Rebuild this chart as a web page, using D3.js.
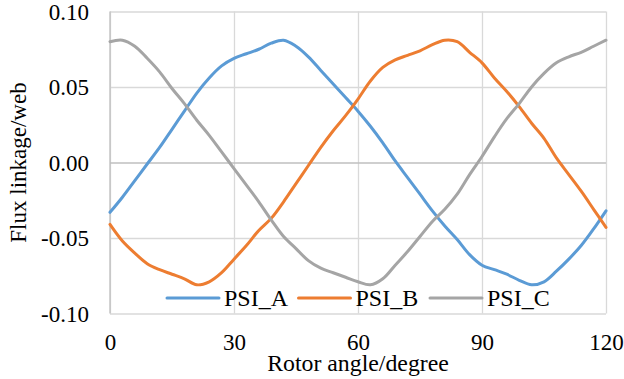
<!DOCTYPE html>
<html>
<head>
<meta charset="utf-8">
<script src="https://cdn.jsdelivr.net/npm/d3@7"></script>
<style>
  html, body { margin: 0; padding: 0; background: #fff; }
</style>
</head>
<body>
<svg id="chart" width="624" height="379"></svg>
<script>
// rotor angle samples (degree)
const angles = [0, 3, 6, 9, 12, 15, 18, 21, 24, 27, 30, 33, 36, 39, 42, 45, 48, 51, 54, 57, 60,
  63, 66, 69, 72, 75, 78, 81, 84, 87, 90, 93, 96, 99, 102, 105, 108, 111, 114, 117, 120];

const psiA = [-0.033, -0.023, -0.012, -0.001, 0.010, 0.022, 0.034, 0.046, 0.056, 0.064, 0.069,
  0.072, 0.075, 0.079, 0.081, 0.077, 0.070, 0.061, 0.052, 0.043, 0.034,
  0.024, 0.013, 0.001, -0.010, -0.021, -0.032, -0.042, -0.051, -0.061, -0.068,
  -0.071, -0.074, -0.078, -0.081, -0.079, -0.072, -0.064, -0.055, -0.044, -0.032];

const psiB = [-0.041, -0.052, -0.060, -0.067, -0.071, -0.074, -0.077, -0.081, -0.079, -0.073, -0.064,
  -0.055, -0.045, -0.037, -0.026, -0.014, -0.002, 0.010, 0.021, 0.031, 0.042,
  0.054, 0.063, 0.068, 0.071, 0.074, 0.078, 0.081, 0.080, 0.073, 0.066,
  0.056, 0.047, 0.037, 0.026, 0.016, 0.003, -0.008, -0.019, -0.031, -0.043];

const psiC = [0.080, 0.081, 0.077, 0.069, 0.060, 0.049, 0.039, 0.028, 0.018, 0.007, -0.004,
  -0.015, -0.026, -0.038, -0.049, -0.057, -0.065, -0.070, -0.073, -0.076, -0.079,
  -0.081, -0.077, -0.068, -0.059, -0.049, -0.039, -0.031, -0.021, -0.008, 0.004,
  0.017, 0.029, 0.039, 0.050, 0.059, 0.066, 0.070, 0.073, 0.077, 0.081];

const seriesNames = ['PSI_A', 'PSI_B', 'PSI_C'];
const seriesColors = ['#5B9BD5', '#ED7D31', '#A5A5A5'];
const xTicks = [0, 30, 60, 90, 120];
const yTicks = [-0.10, -0.05, 0.00, 0.05, 0.10];

const width = 624;
const height = 379;
const margin = { top: 11.5, right: 18, bottom: 65.5, left: 110 };
const fontFamily = 'Liberation Serif';

const svg = d3.select('#chart');

const x = d3.scaleLinear().domain([0, 120]).range([margin.left, width - margin.right]);
const y = d3.scaleLinear().domain([-0.10, 0.10]).range([height - margin.bottom, margin.top]);

const fmt = (d) => d3.format('.2f')(d).replace('\u2212', '-');

const setFont = (sel, size = 23) => sel
  .attr('font-family', fontFamily)
  .style('font-size', `${size}px`)
  .attr('fill', '#000');

// vertical gridlines
const xGrid = svg.append('g')
  .attr('transform', `translate(0,${y(-0.10)})`)
  .call(d3.axisBottom(x).tickValues(xTicks).tickSize(-(y(-0.10) - y(0.10))).tickFormat(''));
xGrid.select('.domain').remove();
xGrid.selectAll('line').attr('stroke', '#D9D9D9').attr('stroke-width', 1.3);

// horizontal gridlines
const yGrid = svg.append('g')
  .attr('transform', `translate(${x(0)},0)`)
  .call(d3.axisLeft(y).tickValues(yTicks).tickSize(-(x(120) - x(0))).tickFormat(''));
yGrid.select('.domain').remove();
yGrid.selectAll('line')
  .attr('stroke', (d) => (d === 0 ? '#BFBFBF' : '#D9D9D9'))
  .attr('stroke-width', 1.3);

// left axis line
svg.append('line')
  .attr('x1', x(0)).attr('x2', x(0))
  .attr('y1', y(0.10)).attr('y2', y(-0.10))
  .attr('stroke', '#BFBFBF').attr('stroke-width', 1.3);

// y tick labels
const yAxis = svg.append('g')
  .attr('transform', `translate(${x(0)},0)`)
  .call(d3.axisLeft(y).tickValues(yTicks).tickSize(0).tickPadding(21).tickFormat(fmt));
yAxis.select('.domain').remove();
yAxis.attr('font-family', fontFamily).attr('font-size', null);
yAxis.selectAll('text').call(setFont).attr('dy', '0.33em');

// x tick labels
const xAxis = svg.append('g')
  .attr('transform', `translate(0,${y(-0.10)})`)
  .call(d3.axisBottom(x).tickValues(xTicks).tickSize(0).tickFormat(d3.format('d')));
xAxis.select('.domain').remove();
xAxis.attr('font-family', fontFamily).attr('font-size', null);
xAxis.selectAll('text').call(setFont).attr('y', 0).attr('dy', 36.5);

// lines
const seriesData = [psiA, psiB, psiC];
const line = d3.line()
  .x((d, i) => x(angles[i]))
  .y((d) => y(d))
  .curve(d3.curveCatmullRom.alpha(0.5));

svg.append('g')
  .selectAll('path')
  .data(seriesData)
  .enter()
  .append('path')
  .attr('d', line)
  .attr('fill', 'none')
  .attr('stroke', (d, i) => seriesColors[i])
  .attr('stroke-width', 3)
  .attr('stroke-linejoin', 'round')
  .attr('stroke-linecap', 'round');

// axis titles
svg.append('text')
  .attr('x', (x(0) + x(120)) / 2)
  .attr('y', 371)
  .attr('text-anchor', 'middle')
  .call(setFont, 23.8)
  .text('Rotor angle/degree');

svg.append('text')
  .attr('transform', `translate(26,${(y(0.10) + y(-0.10)) / 2}) rotate(-90)`)
  .attr('text-anchor', 'middle')
  .call(setFont)
  .text('Flux linkage/web');

// legend
const legend = svg.append('g').attr('transform', 'translate(167,298)');
const items = legend.selectAll('g')
  .data(seriesNames)
  .enter()
  .append('g')
  .attr('transform', (d, i) => `translate(${i * 131.5},0)`);
items.append('line')
  .attr('x1', 0).attr('x2', 52)
  .attr('y1', 0).attr('y2', 0)
  .attr('stroke', (d, i) => seriesColors[i])
  .attr('stroke-width', 3)
  .attr('stroke-linecap', 'round');
items.append('text')
  .attr('x', 57)
  .attr('y', 7.5)
  .call(setFont, 24)
  .text((d) => d);
</script>
</body>
</html>
